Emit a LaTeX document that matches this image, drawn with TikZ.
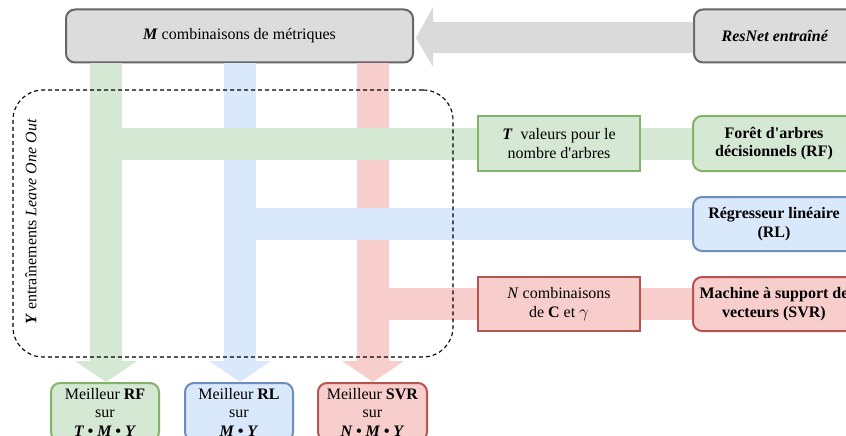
\documentclass[tikz,border=0pt]{standalone}
\usepackage{fontspec}
\setmainfont{Liberation Serif}[Ligatures=TeXOff]
\usetikzlibrary{calc}
\definecolor{gfill}{HTML}{D5E8D4}
\definecolor{gline}{HTML}{82B366}
\definecolor{bfill}{HTML}{DAE8FC}
\definecolor{bline}{HTML}{6C8EBF}
\definecolor{rfill}{HTML}{F8CECC}
\definecolor{rline}{HTML}{B85450}
\definecolor{kfill}{HTML}{DCDCDC}
\definecolor{kline}{HTML}{666666}
\definecolor{karrow}{HTML}{DADADA}
\tikzset{
  txt/.style={font=\fontsize{16}{18.5}\selectfont},
  btxt/.style={font=\fontsize{16}{18.5}\selectfont\bfseries},
  box/.style={draw, line width=2pt, rounded corners=9pt, align=center, inner sep=1pt, txt},
  sqbox/.style={draw, line width=2pt, align=center, inner sep=1pt, txt},
  graybox/.style={box, fill=kfill, draw=kline},
  gbox/.style={fill=gfill, draw=gline},
  bbox/.style={fill=bfill, draw=bline},
  rbox/.style={fill=rfill, draw=rline},
  stripe/.style={line width=32pt},
  gstripe/.style={stripe, draw=gfill},
  bstripe/.style={stripe, draw=bfill},
  rstripe/.style={stripe, draw=rfill},
  groupbox/.style={draw, dash pattern=on 4pt off 3pt, line width=1.1pt, rounded corners=30pt},
}
\begin{document}
\begin{tikzpicture}[x=1pt,y=-1pt]
\useasboundingbox (0,0) rectangle (846,436);
\clip (0,0) rectangle (846,436);

% main nodes
\node[graybox, minimum width=347pt, minimum height=53pt] (M) at (239.5,36) {\textbf{\textit{M}} combinaisons de métriques};
\node[graybox, minimum width=162pt, minimum height=53pt] (R) at (775,36) {\textbf{\textit{ResNet entraîné}}};

\node[box, gbox, minimum width=108pt, minimum height=58pt] (BRF) at (105,412) {Meilleur \textbf{RF}\\sur\\\textbf{\textit{T • M • Y}}};
\node[box, bbox, minimum width=108pt, minimum height=58pt] (BRL) at (239,412) {Meilleur \textbf{RL}\\sur\\\textbf{\textit{M • Y}}};
\node[box, rbox, minimum width=109pt, minimum height=58pt] (BSVR) at (372.5,412) {Meilleur \textbf{SVR}\\sur\\\textbf{\textit{N • M • Y}}};

% column coordinates
\coordinate (gx) at (106,0);
\coordinate (bx) at (240,0);
\coordinate (rx) at (373,0);

% big gray arrow ResNet -> M
\fill[karrow] (R.west |- 0,22) -- (433,22) -- (433,7) -- ($(M.east)+(2,2)$) -- (433,67) -- (433,53) -- (R.west |- 0,53) -- cycle;

% vertical stripes with heads
\foreach \c/\b/\s in {gx/BRF/gfill, bx/BRL/bfill, rx/BSVR/rfill}{
  \draw[line width=32pt, draw=\s] (M.south -| \c) -- ($(\b.north -| \c)+(0,-20)$);
  \fill[\s] ($(\b.north -| \c)+(-31,-21)$) -- ($(\b.north -| \c)+(31,-21)$) -- ($(\b.north -| \c)+(0,0)$) -- cycle;
}

% horizontal stripes
\coordinate (RFw) at (692,143.5);
\coordinate (RLw) at (692,224);
\coordinate (SVRw) at (692,304);
\draw[gstripe] (RFw) -- (gx |- RFw);
\draw[bstripe] (RLw) -- (bx |- RLw);
\draw[rstripe] (SVRw) -- (rx |- SVRw);

% boxes on the stripes
\node[sqbox, gbox, minimum width=162pt, minimum height=55pt] (T) at (559,143.5) {\textbf{\textit{T}}\ \ valeurs pour le\\nombre d'arbres};
\node[sqbox, rbox, minimum width=162pt, minimum height=54pt] (N) at (559,304) {\textit{N} combinaisons\\de $\mathbf{C}$ et $\gamma$};
\node[box, gbox, btxt, minimum width=162pt, minimum height=55pt, anchor=west] (RF) at (RFw) {Forêt d'arbres\\décisionnels (RF)};
\node[box, bbox, btxt, minimum width=162pt, minimum height=54pt, anchor=west] (RL) at (RLw) {Régresseur linéaire\\(RL)};
\node[box, rbox, btxt, minimum width=162pt, minimum height=54pt, anchor=west] (SVR) at (SVRw) {Machine à support de\\vecteurs (SVR)};

% dashed group
\node[groupbox, minimum width=440pt, minimum height=267pt] (LOO) at (233,223.5) {};
\node[rotate=90, txt] (LOOt) at (31,222) {\textbf{\textit{Y}} entraînements \textit{Leave One Out}};
\end{tikzpicture}
\end{document}
